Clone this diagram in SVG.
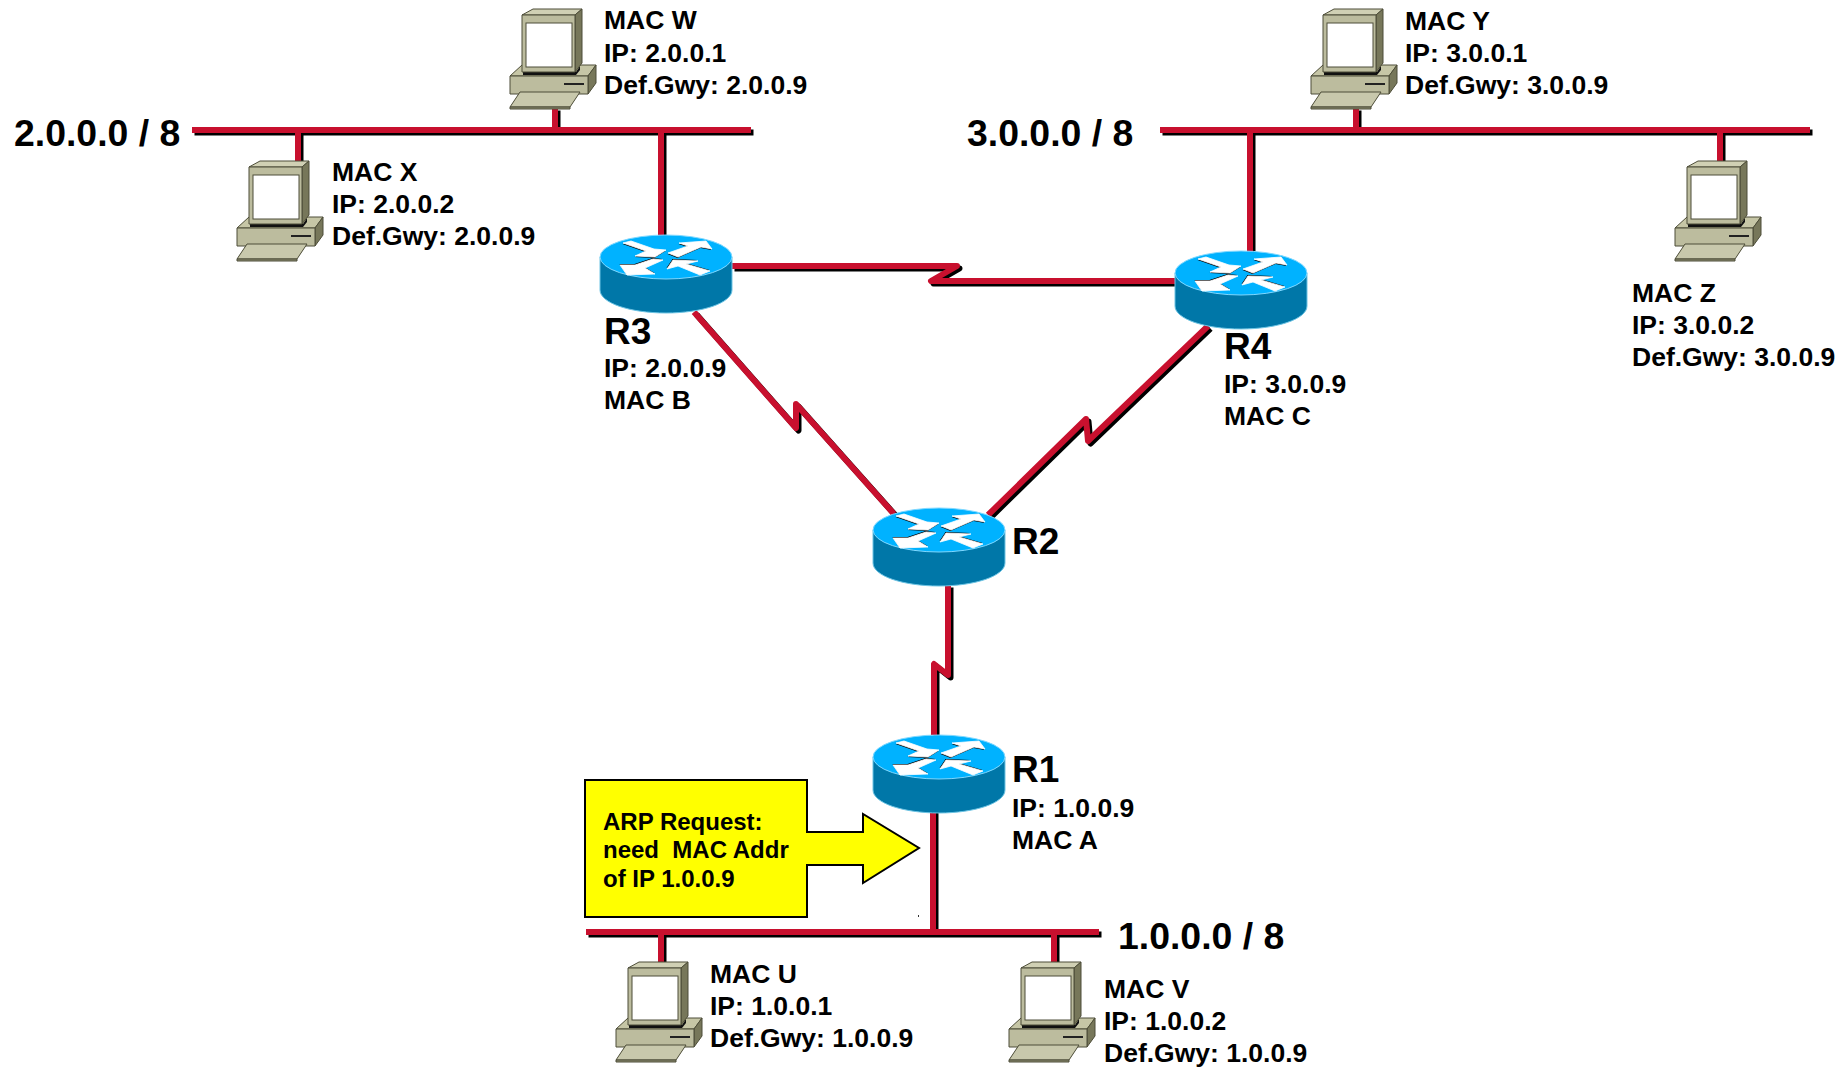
<svg xmlns="http://www.w3.org/2000/svg" width="1845" height="1074" viewBox="0 0 1845 1074">
<style>
text{font-family:"Liberation Sans",Arial,sans-serif;font-weight:700;fill:#000}
.t{font-size:26.5px}
.big{font-size:37.4px}
.rn{font-size:37px}
.call{font-size:24px}
.sh{fill:none;stroke:#000;stroke-width:6;stroke-linejoin:round;transform:translate(2.5px,2.5px)}
.ln{fill:none;stroke:#c8102e;stroke-width:6;stroke-linejoin:round}
.pc{stroke:#4d4d38;stroke-width:1;stroke-linejoin:round}
</style>
<defs>
<g id="pc">
<path class="pc" fill="#c6c6a6" d="M20 76L32 65H106L98 76Z"/>
<path class="pc" fill="#77775a" d="M98 76L106 65V83L98 94Z"/>
<rect class="pc" fill="#bcbc9e" x="20" y="76" width="78" height="18"/>
<path stroke="#222" stroke-width="2" d="M74 84H94"/>
<path class="pc" fill="#c8c8ac" d="M20 107L30 92H90L80 107Z"/>
<path class="pc" fill="#8c8c70" d="M20 107H80V109H20Z"/>
<path fill="#111" d="M33 72H86L90 66V70L86 75H33Z"/>
<path class="pc" fill="#d0d0b4" d="M32 15L43 9H92L85 15Z"/>
<path class="pc" fill="#77775a" d="M85 15L92 9V63L85 72Z"/>
<rect class="pc" fill="#bcbc9e" x="32" y="15" width="53" height="57"/>
<rect x="36" y="23" width="46" height="44" fill="#fff" stroke="#4d4d38" stroke-width="1"/>
</g>
<g id="router">
<path fill="#0077a8" stroke="#6cc4e4" stroke-width="1" d="M-66 0V33C-66 46 -36 56 0 56S66 46 66 33V0Z"/>
<ellipse cx="0" cy="0" rx="66" ry="22" fill="#00b2ff" stroke="#7fd8ff" stroke-width="1"/>
<g fill="#000">
<path transform="translate(-0.5,1)" d="M-43 -14L-35 -16L-12 -8L0 -7L-11 0L-31 -1L-20 -6Z"/>
<path transform="translate(-0.5,1)" d="M2 -4L22 -11L13 -14L40 -16L46 -8L35 -10L12 0Z"/>
<path transform="translate(-0.5,-1)" d="M-46 8L-31 8L-13 2L-3 3L-21 11L-11 17L-39 18Z"/>
<path transform="translate(-0.5,-1)" d="M1 12L7 3L32 4L20 7L44 14L34 18L12 9Z"/>
</g>
<g fill="#fff" stroke="#fff" stroke-width="0.8" stroke-linejoin="round">
<path d="M-43 -14L-35 -16L-12 -8L0 -7L-11 0L-31 -1L-20 -6Z"/>
<path d="M2 -4L22 -11L13 -14L40 -16L46 -8L35 -10L12 0Z"/>
<path d="M-46 8L-31 8L-13 2L-3 3L-21 11L-11 17L-39 18Z"/>
<path d="M1 12L7 3L32 4L20 7L44 14L34 18L12 9Z"/>
</g>
</g>
<path id="links" d="M192 130H751M1160 130H1810M586 932H1099M298 130V162M555 108V130M661 130V240M1356 108V130M1250 130V255M1720 130V162M661 932V962M1054 932V962M933 790V932M732 266H957L931 281H1175M694 312L796 428L796 404L894 514M1208 326L1088 441L1086 419L988 515M948 585V675L934 664V735"/>
</defs>
<g id="connectors">
<use href="#links" class="sh"/>
<use href="#links" class="ln"/>
</g>
<g id="net-2"><text class="big" x="14" y="146">2.0.0.0 / 8</text></g>
<g id="net-3"><text class="big" x="967" y="146">3.0.0.0 / 8</text></g>
<g id="net-1"><text class="big" x="1118" y="949">1.0.0.0 / 8</text></g>
<g id="host-w"><use href="#pc" x="490" y="0"/><text class="t"><tspan x="604" y="29">MAC W</tspan><tspan x="604" y="62">IP: 2.0.0.1</tspan><tspan x="604" y="94">Def.Gwy: 2.0.0.9</tspan></text></g>
<g id="host-x"><use href="#pc" x="217" y="152"/><text class="t"><tspan x="332" y="181">MAC X</tspan><tspan x="332" y="213">IP: 2.0.0.2</tspan><tspan x="332" y="245">Def.Gwy: 2.0.0.9</tspan></text></g>
<g id="host-y"><use href="#pc" x="1291" y="0"/><text class="t"><tspan x="1405" y="30">MAC Y</tspan><tspan x="1405" y="62">IP: 3.0.0.1</tspan><tspan x="1405" y="94">Def.Gwy: 3.0.0.9</tspan></text></g>
<g id="host-z"><use href="#pc" x="1655" y="152"/><text class="t"><tspan x="1632" y="302">MAC Z</tspan><tspan x="1632" y="334">IP: 3.0.0.2</tspan><tspan x="1632" y="366">Def.Gwy: 3.0.0.9</tspan></text></g>
<g id="host-u"><use href="#pc" x="596" y="953"/><text class="t"><tspan x="710" y="983">MAC U</tspan><tspan x="710" y="1015">IP: 1.0.0.1</tspan><tspan x="710" y="1047">Def.Gwy: 1.0.0.9</tspan></text></g>
<g id="host-v"><use href="#pc" x="989" y="953"/><text class="t"><tspan x="1104" y="998">MAC V</tspan><tspan x="1104" y="1030">IP: 1.0.0.2</tspan><tspan x="1104" y="1062">Def.Gwy: 1.0.0.9</tspan></text></g>
<g id="r3"><use href="#router" x="666" y="257"/><text class="rn" x="604" y="344">R3</text><text class="t"><tspan x="604" y="377">IP: 2.0.0.9</tspan><tspan x="604" y="409">MAC B</tspan></text></g>
<g id="r4"><use href="#router" x="1241" y="273"/><text class="rn" x="1224" y="359">R4</text><text class="t"><tspan x="1224" y="393">IP: 3.0.0.9</tspan><tspan x="1224" y="425">MAC C</tspan></text></g>
<g id="r2"><use href="#router" x="939" y="530"/><text class="rn" x="1012" y="554">R2</text></g>
<g id="r1"><use href="#router" x="939" y="757"/><text class="rn" x="1012" y="782">R1</text><text class="t"><tspan x="1012" y="817">IP: 1.0.0.9</tspan><tspan x="1012" y="849">MAC A</tspan></text></g>
<g id="callout">
<path d="M585 780H807V832H863V814L919 848L863 883V865H807V917H585Z" fill="#ff0" stroke="#000" stroke-width="2"/>
<text class="call" xml:space="preserve"><tspan x="603" y="830">ARP Request:</tspan><tspan x="603" y="858">need  MAC Addr</tspan><tspan x="603" y="887">of IP 1.0.0.9</tspan></text>
<rect x="918" y="915" width="1" height="2" fill="#333"/>
</g>
</svg>
